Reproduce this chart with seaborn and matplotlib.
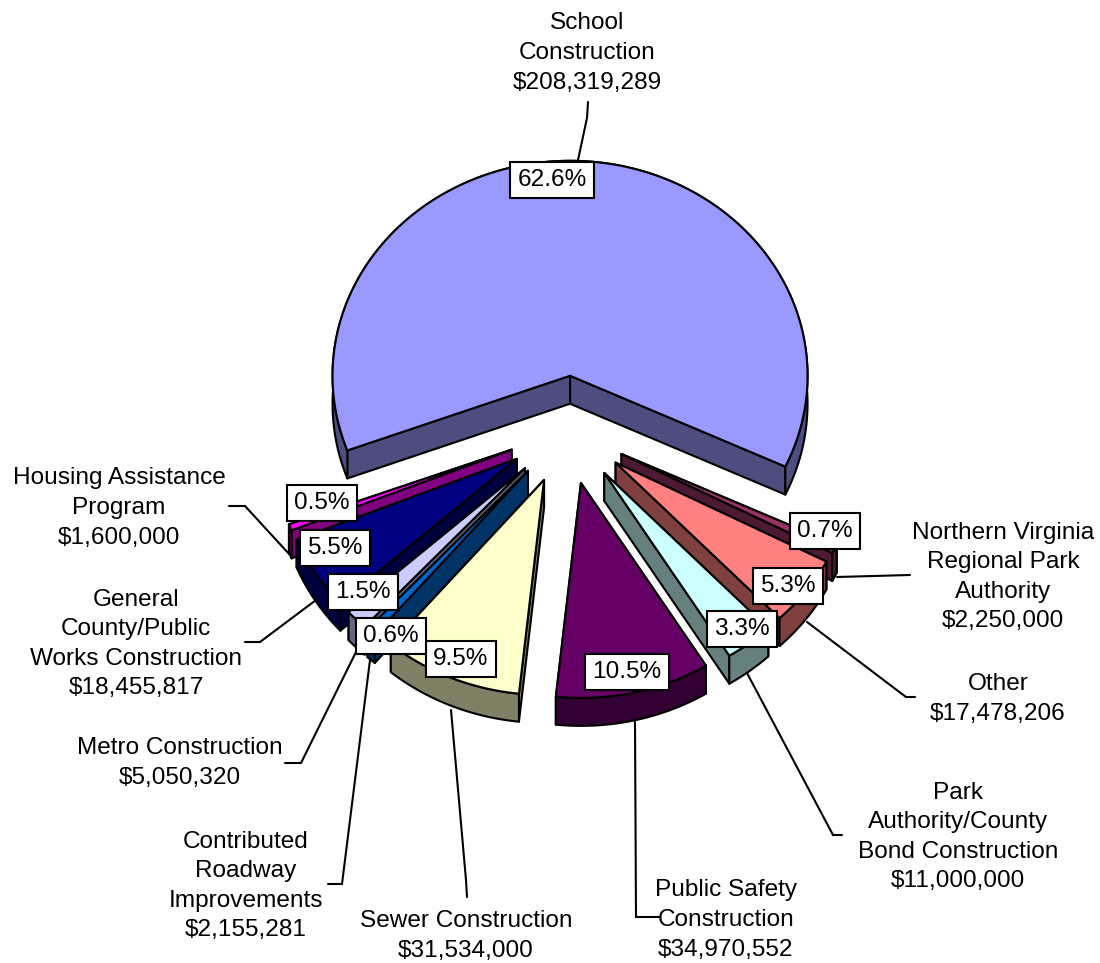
import numpy as np
import pandas as pd
import matplotlib
matplotlib.use("Agg")
import matplotlib.pyplot as plt
import seaborn as sns

# ---- data (clockwise, starting at School Construction) ----
categories = ["School\nConstruction", "Northern Virginia\nRegional Park\nAuthority", "Other",
              "Park\nAuthority/County\nBond Construction", "Public Safety\nConstruction",
              "Sewer Construction", "Contributed\nRoadway\nImprovements", "Metro Construction",
              "General\nCounty/Public\nWorks Construction", "Housing Assistance\nProgram"]
values = [208319289, 2250000, 17478206, 11000000, 34970552,
          31534000, 2155281, 5050320, 18455817, 1600000]
top_colors = ["#9999FF", "#993366", "#FF8080", "#CCFFFF", "#660066",
              "#FFFFCC", "#0066CC", "#CCCCFF", "#000080", "#FF00FF"]
side_colors = ["#4D4D80", "#4D1933", "#804040", "#668080", "#330033",
               "#808066", "#003366", "#666680", "#000040", "#800080"]

# ---- styling / layout (annotation placement, in figure pixels) ----
label_xy = [(587, 53), (1003, 577), (998, 699), (958, 837), (726, 920),
            (466, 936), (246, 886), (180, 763), (136, 644), (119, 508)]
pct_xy = [(552, 180), (825, 531), (788, 586), (742, 629), (627, 672),
          (461, 659), (391, 636), (363, 592), (335, 548), (322, 503)]
leaders = [[(588, 102), (587, 118), (578, 160)],
           [(910, 575), (837, 577)],
           [(915, 697), (906, 697), (807, 622)],
           [(842, 835), (833, 835), (747, 673)],
           [(660, 917), (636, 917), (635, 722)],
           [(467, 897), (466, 880), (451, 710)],
           [(328, 884), (342, 884), (370, 660)],
           [(285, 763), (301, 763), (357, 650)],
           [(245, 642), (260, 642), (316, 600)],
           [(229, 506), (245, 506), (290, 555)]]
CX, CY, RX, SQUASH, EXPLODE, DEPTH, START = 567.6, 430.0, 237.5, 0.905, 60.0, 28.0, -25.0
draw_order = [0, 1, 2, 3, 9, 8, 7, 6, 5, 4]

sns.set_theme(style="white")
plt.rcParams["font.family"] = ["Liberation Sans", "DejaVu Sans"]
top_pal = sns.color_palette(top_colors)
side_pal = sns.color_palette(side_colors)

df = pd.DataFrame({"category": categories, "value": values})
df["share"] = df["value"] / df["value"].sum()
df["dollars"] = df["value"].map(lambda v: f"${v:,.0f}")
sweep = df["share"].to_numpy() * 360.0
# clockwise layout: School ends at START; the rest continue from there
starts = np.zeros(len(df))
starts[0] = START + sweep[0]
cur = START
for i in range(1, len(df)):
    starts[i] = cur
    cur -= sweep[i]
ends = starts - sweep

fig = plt.figure(figsize=(11, 9.63), dpi=100)
ax = fig.add_axes([0, 0, 1, 1])
ax.set_xlim(0, 1100)
ax.set_ylim(963, 0)
ax.axis("off")
LW = 1.5


def project(t, r, mid):
    t, m = np.radians(t), np.radians(mid)
    x = CX + EXPLODE * np.cos(m) + r * np.cos(t)
    y = CY - SQUASH * (EXPLODE * np.sin(m) + r * np.sin(t))
    return x, y


z = 2
for i in draw_order:
    a0, a1 = starts[i], ends[i]
    mid = (a0 + a1) / 2
    ts = np.linspace(a0, a1, max(8, int(abs(a0 - a1) * 2)))
    ax_, ay_ = project(ts, RX, mid)
    ox, oy = project(0.0, 0.0, mid)
    # cut faces, back-facing first
    faces = [(a0, a0 + 90), (a1, a1 - 90)]
    faces.sort(key=lambda f: -np.sin(np.radians(f[1])))
    for ang, _ in faces:
        ex, ey = project(ang, RX, mid)
        ax.fill([ox, ex, ex, ox], [oy, ey, ey + DEPTH, oy + DEPTH],
                facecolor=side_pal[i], edgecolor="black", lw=LW, zorder=z, joinstyle="round")
        z += 1
    # outer wall
    ax.fill(np.r_[ax_, ax_[::-1]], np.r_[ay_, ay_[::-1] + DEPTH],
            facecolor=side_pal[i], edgecolor="black", lw=LW, zorder=z, joinstyle="round")
    z += 1
    # top face
    ax.fill(np.r_[ox, ax_], np.r_[oy, ay_],
            facecolor=top_pal[i], edgecolor="black", lw=LW, zorder=z, joinstyle="round")
    z += 1

for pts in leaders:
    xs, ys = zip(*pts)
    ax.plot(xs, ys, color="black", lw=1.5, zorder=z, solid_joinstyle="miter")
z += 1

FS = 17.6
for i, row in df.iterrows():
    ax.text(*label_xy[i], f"{row['category']}\n{row['dollars']}", ha="center", va="center",
            multialignment="center", fontsize=FS, linespacing=1.45, color="black", zorder=z)
    ax.text(*pct_xy[i], f"{row['share']:.1%}", ha="center", va="center", fontsize=FS, color="black",
            zorder=z + 1, bbox=dict(boxstyle="square,pad=0.3", fc="white", ec="black", lw=1.5))

fig.savefig("out.png", dpi=100, facecolor="white")
